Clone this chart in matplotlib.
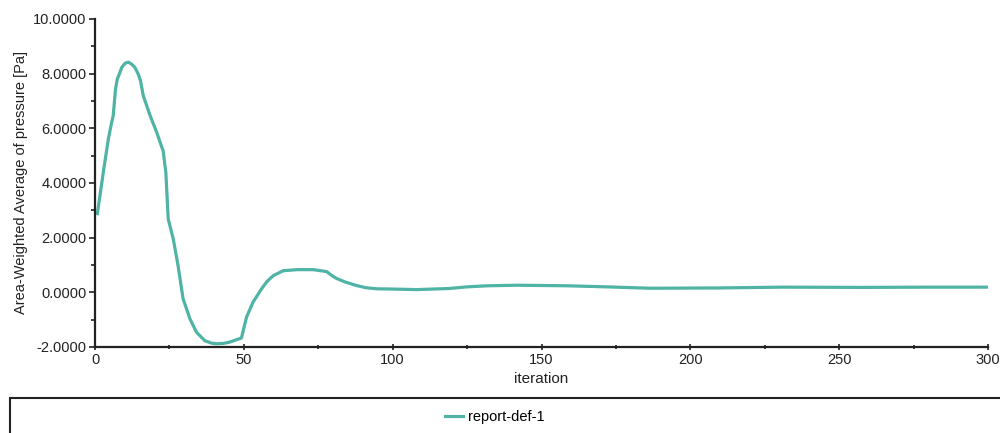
import matplotlib.pyplot as plt
from matplotlib.patches import Rectangle

# report-def-1 values
iteration = [0.8, 2.8, 4.5, 5.6, 6.1, 6.9, 7.5, 8.2, 9.0, 10.1, 11.2, 12.3,
             13.4, 14.5, 15.3, 16.2, 18.5, 20.7, 22.9, 23.8, 24.6, 26.3, 27.9,
             29.6, 31.9, 34.1, 36.9, 39.2, 40.8, 43.1, 45.3, 49.2, 50.9, 53.1,
             55.9, 57.8, 59.9, 63.2, 68.0, 73.3, 77.8, 79.5, 81.1, 84.0, 87.8,
             91.0, 94.6, 100.0, 108.0, 119.0, 124.9, 132.0, 141.7, 158.5,
             172.0, 186.4, 208.8, 231.0, 258.0, 280.0, 300.0]
pressure = [2.88, 4.40, 5.62, 6.22, 6.45, 7.44, 7.81, 7.99, 8.23, 8.38, 8.42,
            8.35, 8.23, 7.99, 7.74, 7.20, 6.47, 5.86, 5.17, 4.39, 2.68, 1.95,
            0.98, -0.24, -0.97, -1.46, -1.77, -1.86, -1.88, -1.87, -1.82,
            -1.67, -0.91, -0.36, 0.12, 0.40, 0.61, 0.79, 0.83, 0.83, 0.76,
            0.62, 0.51, 0.38, 0.25, 0.17, 0.13, 0.12, 0.10, 0.14, 0.20, 0.24,
            0.26, 0.24, 0.20, 0.15, 0.16, 0.19, 0.18, 0.19, 0.19]

x_ticks = [0, 50, 100, 150, 200, 250, 300]
y_ticks = [-2, 0, 2, 4, 6, 8, 10]

plt.rcParams["font.family"] = ["Liberation Sans", "DejaVu Sans"]

fig = plt.figure(figsize=(10, 4.33), dpi=100)
ax = fig.add_axes([0.095, 1 - 347 / 433, 0.893, 328 / 433])

line, = ax.plot(iteration, pressure, color="#4fb3a5", linewidth=2.3,
                label="report-def-1", solid_joinstyle="round")

ax.set_xlim(0, 300)
ax.set_ylim(-2, 10)
ax.set_xticks(x_ticks)
ax.set_xticks([25, 75, 125, 175, 225, 275], minor=True)
ax.set_yticks(y_ticks)
ax.set_yticks([-1, 1, 3, 5, 7, 9], minor=True)
ax.set_yticklabels([f"{v:.4f}" for v in y_ticks])

for side in ("top", "right"):
    ax.spines[side].set_visible(False)
for side in ("left", "bottom"):
    ax.spines[side].set_linewidth(1.6)
    ax.spines[side].set_color("#222222")

ax.tick_params(axis="both", which="major", labelsize=10.5, length=4,
               width=1.2, colors="#222222", pad=2)
ax.tick_params(axis="both", which="minor", length=3, width=1.2,
               colors="#222222")
ax.tick_params(axis="x", which="both", direction="inout")

ax.set_xlabel("iteration", fontsize=11, color="#222222", labelpad=4)
ax.set_ylabel("Area-Weighted Average of pressure [Pa]", fontsize=10.5,
              color="#222222", labelpad=4)

# legend box along the bottom edge
fig.patches.append(Rectangle((0.01, -0.05), 1.0, 0.05 + 1 - 398 / 433,
                             transform=fig.transFigure, fill=False,
                             edgecolor="#222222", linewidth=1.5))
fig.legend(handles=[line], loc="center", bbox_to_anchor=(0.495, 1 - 417 / 433),
           frameon=False, fontsize=10.5, handlelength=1.2, handletextpad=0.4)

fig.savefig("out.png", dpi=100)
